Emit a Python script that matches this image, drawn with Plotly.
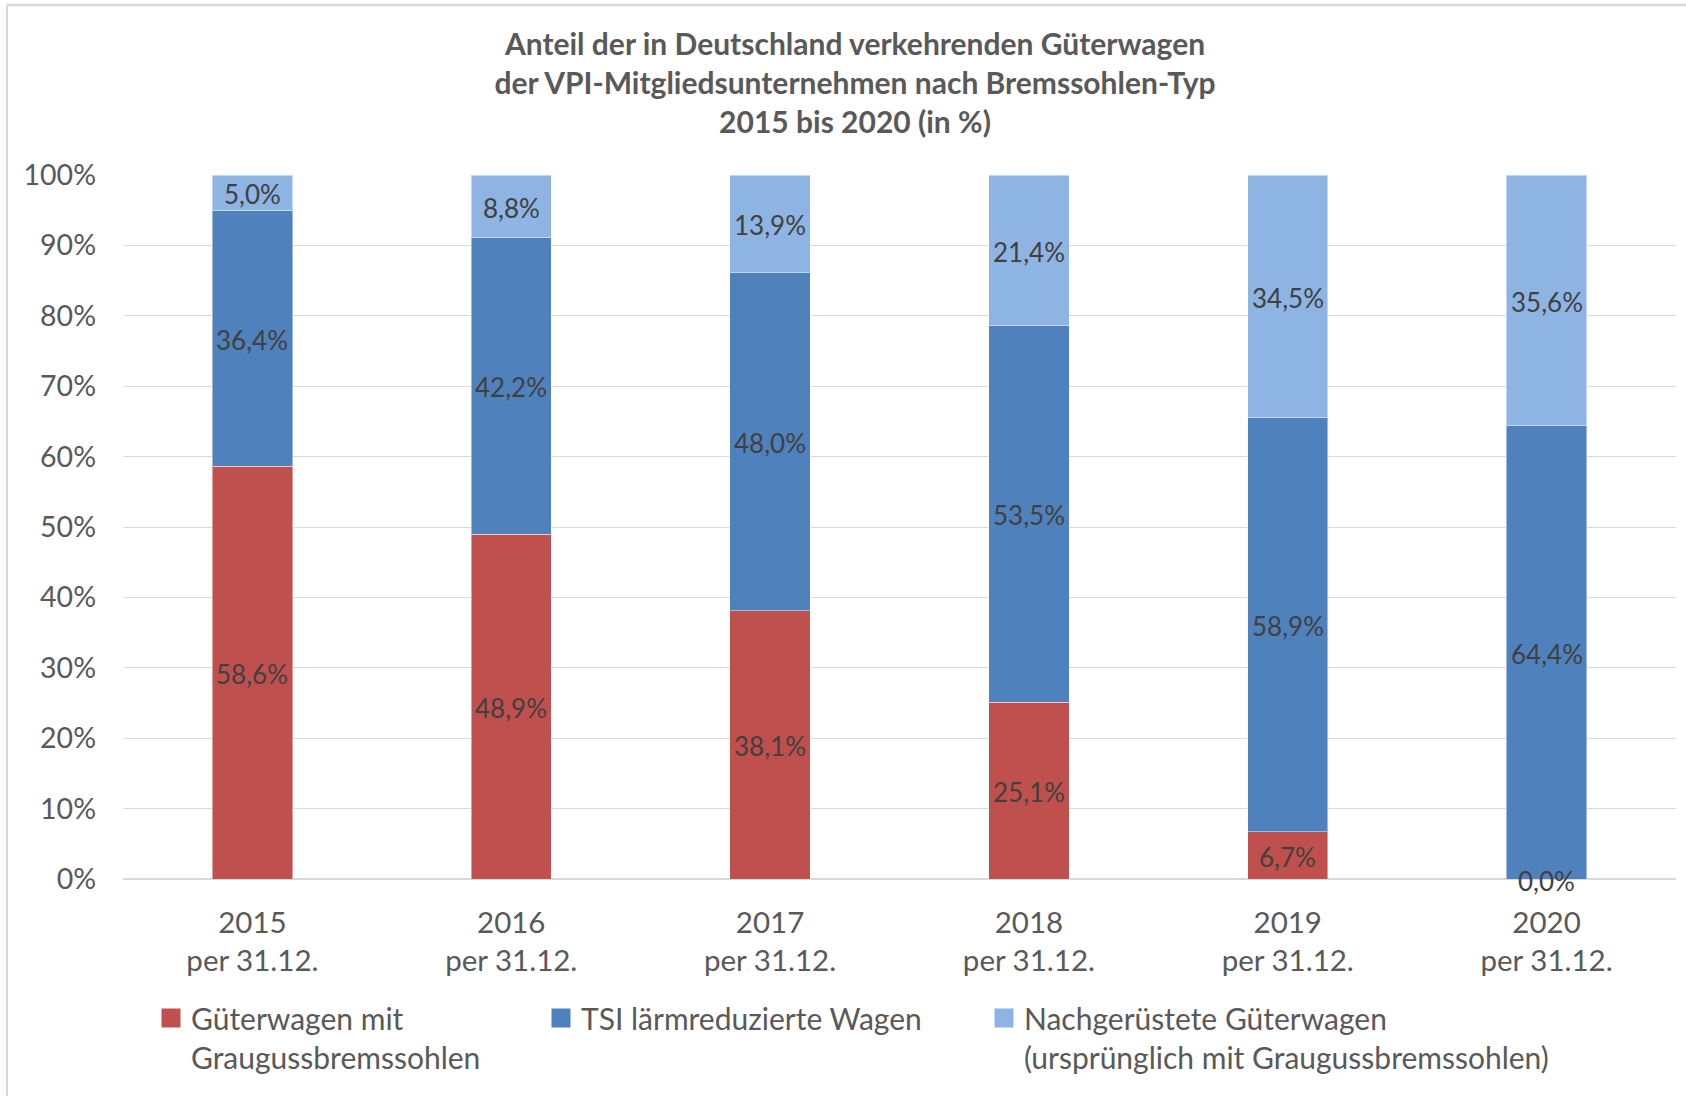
import plotly.graph_objects as go

categories = ["2015<br>per 31.12.", "2016<br>per 31.12.", "2017<br>per 31.12.",
              "2018<br>per 31.12.", "2019<br>per 31.12.", "2020<br>per 31.12."]
grauguss = [58.6, 48.9, 38.1, 25.1, 6.7, 0.0]
tsi = [36.4, 42.2, 48.0, 53.5, 58.9, 64.4]
nachgeruestet = [5.0, 8.8, 13.9, 21.4, 34.5, 35.6]

series_names = ["Güterwagen mit<br>Graugussbremssohlen",
                "TSI lärmreduzierte Wagen",
                "Nachgerüstete Güterwagen<br>(ursprünglich mit Graugussbremssohlen)"]
colors = ["#C0504D", "#4F81BD", "#8EB4E3"]
y_ticks = [0, 10, 20, 30, 40, 50, 60, 70, 80, 90, 100]
title_text = ("Anteil der in Deutschland verkehrenden Güterwagen<br>"
              "der VPI-Mitgliedsunternehmen nach Bremssohlen-Typ<br>"
              "2015 bis 2020 (in %)")

FONT = "Lato"
series = [grauguss, tsi, nachgeruestet]

fig = go.Figure()

# stacked bars
for vals, name, col in zip(series, series_names, colors):
    fig.add_trace(go.Bar(
        x=categories, y=vals, name=name, marker_color=col,
        marker_line=dict(color="rgba(255,255,255,0.45)", width=1),
        width=0.31, showlegend=False,
    ))

# data labels centred in each segment (normalised like a 100% stacked chart)
totals = [sum(v) for v in zip(*series)]
base = [0.0] * len(categories)
for vals in series:
    norm = [v / t * 100 for v, t in zip(vals, totals)]
    for cat, b, n, v in zip(categories, base, norm, vals):
        fig.add_annotation(
            x=cat, y=b + n / 2, xref="x", yref="y",
            text=f"{v:.1f}%".replace(".", ","), showarrow=False,
            yshift=-1.5, font=dict(family=FONT, size=26, color="#404040"),
        )
    base = [b + n for b, n in zip(base, norm)]

# legend proxies (square markers), one legend per entry
legend_ids = ["legend", "legend2", "legend3"]
for name, col, lid in zip(series_names, colors, legend_ids):
    fig.add_trace(go.Scatter(
        x=[None], y=[None], mode="markers", name=name,
        marker=dict(symbol="square", size=16, color=col,
                    line=dict(color=col, width=3)),
        showlegend=True, legend=lid,
    ))

W, H = 1686, 1096
ML, MR, MT, MB = 123, 10, 175, 217
leg_common = dict(orientation="h", xref="container", yref="container",
                  yanchor="top", xanchor="left", valign="top",
                  font=dict(family=FONT, size=30, color="#595959"),
                  bgcolor="rgba(0,0,0,0)", itemclick=False)
LEG_Y = 1 - 992 / H

fig.update_layout(
    width=W, height=H,
    margin=dict(l=ML, r=MR, t=MT, b=MB),
    paper_bgcolor="white", plot_bgcolor="white",
    barmode="stack", barnorm="percent",
    font=dict(family=FONT, color="#595959"),
    title=dict(text=title_text, x=855 / W, xref="container", xanchor="center",
               y=1 - 55 / H, yref="container", yanchor="top",
               font=dict(family=FONT, size=30, color="#595959", weight="bold")),
    xaxis=dict(showgrid=False, showline=False, ticks="",
               tickfont=dict(family=FONT, size=29.5, color="#595959"),
               ticklabelstandoff=23, range=[-0.5, 5.5]),
    yaxis=dict(range=[0, 100], tickvals=y_ticks,
               ticktext=[f"{t}%" for t in y_ticks],
               showgrid=True, gridcolor="#D9D9D9", gridwidth=1,
               zeroline=True, zerolinecolor="#D9D9D9", zerolinewidth=1.5,
               showline=False, ticks="",
               tickfont=dict(family=FONT, size=28.5, color="#595959"),
               ticklabelstandoff=26),
    legend=dict(x=151 / W, y=LEG_Y, **leg_common),
    legend2=dict(x=541 / W, y=LEG_Y, **leg_common),
    legend3=dict(x=984 / W, y=LEG_Y, **leg_common),
)

# chart frame (top and left edges visible in reference)
px_w = W - ML - MR
px_h = H - MT - MB
x_left = (7 - ML) / px_w
y_top = (px_h + MT - 5) / px_h
fig.add_shape(type="line", xref="paper", yref="paper",
              x0=x_left, x1=1.05, y0=y_top, y1=y_top,
              line=dict(color="#D9D9D9", width=2.5), layer="below")
fig.add_shape(type="line", xref="paper", yref="paper",
              x0=x_left, x1=x_left, y0=y_top, y1=-0.4,
              line=dict(color="#D9D9D9", width=2), layer="below")

fig.write_html("out.html", config={"displayModeBar": False},
               post_script="document.body.style.margin='0';document.body.style.overflow='hidden';")
